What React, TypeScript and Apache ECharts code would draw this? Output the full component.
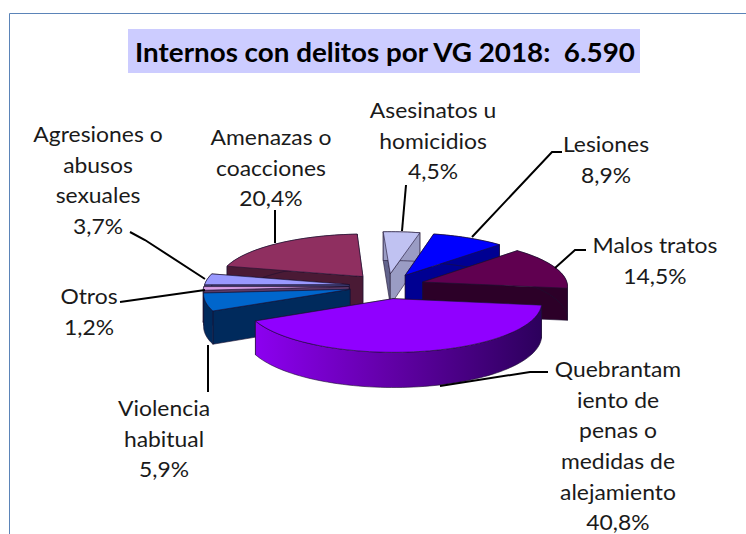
import React, { useEffect, useRef } from "react";
import * as echarts from "echarts";

const titleText = "Internos con delitos por VG 2018:  6.590";
const labelLines = [
  ["Asesinatos u", "homicidios"],
  ["Lesiones"],
  ["Malos tratos"],
  ["Quebrantam", "iento de", "penas o", "medidas de", "alejamiento"],
  ["Violencia", "habitual"],
  ["Otros"],
  ["Agresiones o", "abusos", "sexuales"],
  ["Amenazas o", "coacciones"],
];
const sliceNames = labelLines.map((l) => l.join(" "));
const percentages = [4.5, 8.9, 14.5, 40.8, 5.9, 1.2, 3.7, 20.4];

// styling and layout (separate from the data)
const topColors = ["#c0c2f2", "#0000ff", "#600050", "#9000ff", "#0066cc", "#d8a0e8", "#9999ff", "#8f2f60"];
const wallColors = ["#9a9cc4", "#000092", "#2c0028", "#3e0078", "#002a5c", "#5a3a66", "#3c3c70", "#4a1a35"];
const drawOrder = [7, 0, 1, 2, 6, 5, 4, 3];
const labelCenters = [433, 606, 655, 618, 164, 89, 98, 271];
const labelTops = [110, 144, 245, 369, 408, 296, 134, 137];
const leaders = [
  [[402, 231], [406, 185]],
  [[472, 237], [552, 152], [562, 152]],
  [[555, 268], [575, 250], [586, 250]],
  [[440, 386], [530, 372], [548, 372]],
  [[208, 345], [208, 392]],
  [[120, 302], [205, 290]],
  [[130, 232], [145, 240], [205, 279]],
  [[275, 210], [275, 243]],
];
const FONT = "Lato";
const LINE_H = 30.6;
const START_DEG = -3;
const CX = 387, CY = 286, R = 145, TILT = 0.33, PERSP = 0.08, DEPTH = 32, EXPLODE = 38;

function project(gx: number, gy: number, z: number) {
  const s = 1 + (PERSP * gy) / R;
  return [CX + gx * s, CY + gy * TILT * s + z * s];
}

const angles: number[][] = [];
{
  let a = START_DEG;
  for (const p of percentages) {
    angles.push([a, a + p * 3.6]);
    a += p * 3.6;
  }
}

function renderSlice(params: any, api: any) {
  const i = api.value(1);
  const [a0, a1] = angles[i];
  const mid = ((a0 + a1) / 2) * (Math.PI / 180);
  const ox = Math.sin(mid) * EXPLODE, oy = -Math.cos(mid) * EXPLODE;
  const arc: number[][] = [];
  const n = Math.max(2, Math.ceil((a1 - a0) / 2));
  for (let k = 0; k <= n; k++) {
    const t = ((a0 + ((a1 - a0) * k) / n) * Math.PI) / 180;
    arc.push([ox + Math.sin(t) * R, oy - Math.cos(t) * R]);
  }
  const top = (p: number[]) => project(p[0], p[1], 0);
  const bot = (p: number[]) => project(p[0], p[1], DEPTH);
  const apex = [ox, oy];
  const edge = { stroke: "#1c1030", lineWidth: 0.6 };
  const walls: { d: number; el: any }[] = [];
  const radial = (p: number[], fill: string) => {
    walls.push({
      d: (p[1] + apex[1]) / 2,
      el: { type: "polygon", shape: { points: [top(apex), top(p), bot(p), bot(apex)] }, style: { fill, ...edge } },
    });
  };
  radial(arc[0], i === 0 ? "#62648c" : wallColors[i]);
  radial(arc[arc.length - 1], wallColors[i]);
  const outerFill =
    i === 3
      ? { type: "linear", x: 0, y: 0, x2: 1, y2: 0, colorStops: [{ offset: 0, color: "#8c00f0" }, { offset: 0.45, color: "#6400aa" }, { offset: 1, color: "#2c005c" }] }
      : wallColors[i];
  const outer = {
    type: "polygon",
    shape: { points: [...arc.map(top), ...arc.slice().reverse().map(bot)] },
    style: { fill: outerFill, ...edge },
  };
  walls.sort((a, b) => a.d - b.d);
  const children = [
    ...walls.map((w) => w.el),
    outer,
    { type: "polygon", shape: { points: [top(apex), ...arc.map(top)] }, style: { fill: topColors[i], ...edge } },
  ];
  return { type: "group", children };
}

export default function App() {
  const ref = useRef<HTMLDivElement>(null);
  useEffect(() => {
    document.body.style.margin = "0";
    const chart = echarts.init(ref.current!, null, { renderer: "svg" });
    const texts: any[] = [];
    labelLines.forEach((lines, i) => {
      const all = [...lines, `${percentages[i]}`.replace(".", ",") + "%"];
      all.forEach((t, j) => {
        texts.push({
          type: "text",
          z: 10,
          x: labelCenters[i],
          y: labelTops[i] + j * LINE_H,
          scaleX: 1.09,
          style: {
            text: t,
            x: 0,
            y: 0,
            align: "center",
            verticalAlign: "middle",
            font: `21px ${FONT}`,
            fill: "#1a1a1a",
          },
        });
      });
    });
    const lines = leaders.map((pts) => ({
      type: "polyline",
      z: 5,
      shape: { points: pts },
      style: { stroke: "#000000", lineWidth: 2, fill: "none" },
    }));
    chart.setOption({
      animation: false,
      backgroundColor: "#ffffff",
      graphic: [
        { type: "line", shape: { x1: 9.5, y1: 13.5, x2: 746, y2: 13.5 }, style: { stroke: "#5b84b8", lineWidth: 1 } },
        { type: "line", shape: { x1: 9.5, y1: 13.5, x2: 9.5, y2: 534 }, style: { stroke: "#5b84b8", lineWidth: 1 } },
        { type: "rect", shape: { x: 128, y: 29, width: 512, height: 44 }, style: { fill: "#ccccff" } },
        {
          type: "text",
          x: 385,
          y: 52,
          scaleX: 1.03,
          style: { text: titleText, x: 0, y: 0, align: "center", verticalAlign: "middle", font: `bold 27px ${FONT}`, fill: "#000000" },
        },
        ...lines,
        ...texts,
      ],
      series: [
        {
          type: "custom",
          coordinateSystem: "none",
          silent: true,
          renderItem: renderSlice,
          data: drawOrder.map((i) => ({ name: sliceNames[i], value: [percentages[i], i] })),
        },
      ],
    });
    return () => chart.dispose();
  }, []);
  return <div ref={ref} style={{ width: 746, height: 534 }} />;
}
